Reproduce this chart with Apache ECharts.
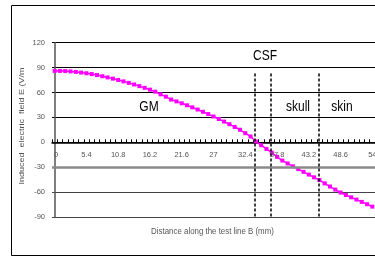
<!DOCTYPE html>
<html>
<head>
<meta charset="utf-8">
<script src="https://cdn.jsdelivr.net/npm/echarts@6/dist/echarts.min.js"></script>
<style>
html,body{margin:0;padding:0;background:#fff;}
#c{width:375px;height:257px;}
</style>
</head>
<body>
<div id="c"></div>
<script>
// Distance along the test line B (mm)
const distance = [0,0.9,1.8,2.7,3.6,4.5,5.4,6.3,7.2,8.1,9,9.9,10.8,11.7,12.6,13.5,14.4,15.3,16.2,17.1,
  18,18.9,19.8,20.7,21.6,22.5,23.4,24.3,25.2,26.1,27,27.9,28.8,29.7,30.6,31.5,32.4,33.3,34.2,35.1,
  36,36.9,37.8,38.7,39.6,40.5,41.4,42.3,43.2,44.1,45,45.9,46.8,47.7,48.6,49.5,50.4,51.3,52.2,53.1,54];
// Induced electric field E (V/m)
const field = [86.0,86.0,85.8,85.4,84.8,84.0,83.2,82.2,81.0,79.6,78.2,76.7,75.1,73.4,71.6,69.7,67.7,65.6,63.4,61.0,
  57.8,55.0,51.5,49.3,47.0,44.6,42.1,39.5,36.8,34.0,31.1,28.1,25.0,21.8,18.5,15.1,11.0,7.0,1.0,-3.5,
  -8.0,-12.5,-17.5,-22.0,-25.5,-29.0,-32.3,-35.6,-38.9,-42.2,-45.5,-49.5,-53.3,-57.0,-60.5,-63.5,-66.3,-69.0,-71.8,-74.6,-77.5];
const xTickLabels = ['0','5.4','10.8','16.2','21.6','27','32.4','37.8','43.2','48.6','54'];
const xTickMarks = [-0.45,0.45,1.35,2.25,3.15,4.05,4.95,5.85,6.75,7.65,8.55,9.45,10.35,11.25,12.15,13.05,13.95,14.85,15.75,16.65,
  17.55,18.45,19.35,20.25,21.15,22.05,22.95,23.85,24.75,25.65,26.55,27.45,28.35,29.25,30.15,31.05,31.95,32.85,33.75,34.65,
  35.55,36.45,37.35,38.25,39.15,40.05,40.95,41.85,42.75,43.65,44.55,45.45,46.35,47.25,48.15,49.05,49.95,50.85,51.75,52.65,53.55,54.45];
const boundaries = [34.0, 36.8, 44.9];
const regions = [
  {name:'GM', x:149, y:107},
  {name:'CSF', x:265, y:56},
  {name:'skull', x:298, y:107},
  {name:'skin', x:342, y:107}
];

const chart = echarts.init(document.getElementById('c'), null, {renderer:'canvas'});
const FONT = '"Liberation Sans", Arial, sans-serif';

const gridTop = 42.7, gridBottomPx = 217;
const yMin = -90, yMax = 120;
const zeroOffset = -(gridBottomPx - gridTop) * (0 - yMin) / (yMax - yMin);

const graphics = [
  {type:'rect', shape:{x:11.5, y:5.5, width:420, height:250}, style:{fill:'none', stroke:'#000', lineWidth:1}, z:0, silent:true},
  {type:'text', x:212.5, y:231, style:{text:'Distance along the test line B (mm)', x:0, y:0, fill:'#555', font:'7.9px ' + FONT, textAlign:'center', textVerticalAlign:'middle'}, scaleY:1.2},
  {type:'text', x:22, y:126, rotation:Math.PI/2, style:{text:'Induced  electric  field E (V/m', x:0, y:0, fill:'#555', font:'7.5px ' + FONT, textAlign:'center', textVerticalAlign:'middle'}, scaleX:1.2}
];
regions.forEach(r => {
  graphics.push({type:'text', x:r.x, y:r.y, z:10, scaleY:1.25,
    style:{text:r.name, x:0, y:0, fill:'#000', font:'12px ' + FONT, textAlign:'center', textVerticalAlign:'middle'}});
});

chart.setOption({
  animation:false,
  backgroundColor:'#fff',
  grid:{left:52, right:0, top:gridTop, bottom:257 - gridBottomPx, containLabel:false},
  xAxis:{
    type:'value', min:-0.45, max:54.45,
    position:'bottom', offset:zeroOffset,
    axisLine:{onZero:false, lineStyle:{color:'#000', width:1.5}},
    axisTick:{show:true, inside:true, length:3, customValues:xTickMarks, lineStyle:{color:'#000', width:1}},
    axisLabel:{show:false},
    splitLine:{show:false}
  },
  yAxis:{
    type:'value', min:yMin, max:yMax, interval:30,
    axisLine:{show:true, lineStyle:{color:'#555', width:1.5}},
    axisTick:{show:false},
    axisLabel:{color:'#555', fontSize:7.5, fontFamily:FONT, margin:7},
    splitLine:{show:true, lineStyle:{color:['#444','#444','#888','#000','#000','#000','#000','#000'], width:1}}
  },
  graphic:graphics,
  series:[
    {
      type:'line', data:[], z:1, silent:true,
      markLine:{silent:true, symbol:'none', label:{show:false}, animation:false,
        lineStyle:{color:'#8a8a8a', width:2.5, type:'solid'},
        data:[{yAxis:-30}]}
    },
    {
      type:'line', z:2,
      data:distance.map((d,i)=>[d, field[i]]),
      symbol:'rect', symbolSize:4,
      itemStyle:{color:'#ff00ff'},
      lineStyle:{color:'#ff00ff', width:1.5}
    },
    {
      type:'line', data:[], z:5, silent:true,
      markLine:{silent:true, symbol:'none', label:{show:false}, animation:false,
        lineStyle:{color:'#000', width:1.5, type:[3,2]},
        data:boundaries.map(b => [{coord:[b, 83]}, {coord:[b, -90]}])}
    }
  ]
});

// x tick labels placed through the chart's own scale
const labelGraphics = xTickLabels.map((t, i) => {
  const p = chart.convertToPixel({gridIndex:0}, [parseFloat(t), 0]);
  return {type:'text', x:p[0] + (i === 0 ? 1.5 : 0), y:p[1] + 13, z:20, silent:true,
    style:{text:t, x:0, y:0, fill:'#555', font:'7.5px ' + FONT, textAlign:'center', textVerticalAlign:'middle'}};
});
chart.setOption({graphic:graphics.concat(labelGraphics)});
</script>
</body>
</html>
